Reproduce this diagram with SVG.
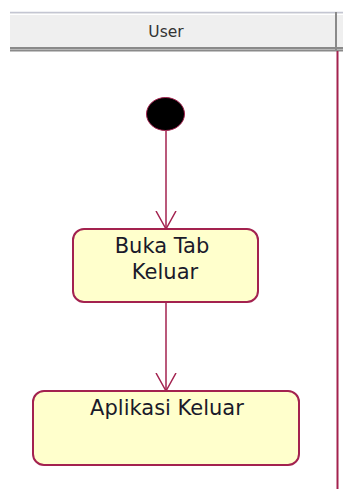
<svg xmlns="http://www.w3.org/2000/svg" width="343" height="489" viewBox="0 0 343 489">
<style>
.node{fill:#ffffcc;stroke:#a3224f;stroke-width:2}
.lbl{font-family:"DejaVu Sans",sans-serif;font-size:21px;fill:#1a1a2a;text-anchor:middle}
.edge{stroke:#a3224f;stroke-width:1.5;fill:none}
</style>
<defs>
<marker id="open" markerWidth="24" markerHeight="24" refX="18" refY="11" orient="auto" markerUnits="userSpaceOnUse" viewBox="0 0 24 24">
<path d="M0,1 L18,11 L0,21" fill="none" stroke="#a3224f" stroke-width="1.5"/>
</marker>
</defs>
<rect width="343" height="489" fill="#ffffff"/>
<g id="lane-header">
<rect x="10" y="12" width="333" height="39" fill="#efefef"/>
<line x1="10" y1="12.5" x2="343" y2="12.5" stroke="#c4c6d2" stroke-width="1.5"/>
<line x1="10" y1="14.5" x2="343" y2="14.5" stroke="#ffffff" stroke-width="1"/>
<rect x="10" y="47" width="333" height="2" fill="#8a8a8a"/>
<rect x="10" y="49" width="333" height="1" fill="#b8b8b8"/>
<rect x="10" y="50" width="333" height="1.5" fill="#8a8a8a"/>
<rect x="335" y="12" width="2" height="39" fill="#8a8a8a"/>
<text x="166" y="37" style="font-family:'DejaVu Sans',sans-serif;font-size:15.5px;fill:#333" text-anchor="middle">User</text>
</g>
<line x1="337.5" y1="51" x2="337.5" y2="489" stroke="#a3224f" stroke-width="2"/>
<g id="connectors">
<line class="edge" x1="166" y1="131" x2="166" y2="229" marker-end="url(#open)"/>
<line class="edge" x1="166" y1="302" x2="166" y2="391" marker-end="url(#open)"/>
</g>
<g id="start">
<ellipse cx="165.5" cy="114" rx="19" ry="16.5" fill="#000000" stroke="#a3224f" stroke-width="1"/>
</g>
<g id="buka-tab-keluar">
<rect class="node" x="73" y="229" width="185" height="73" rx="11"/>
<text class="lbl" x="162" y="253">Buka Tab</text>
<text class="lbl" x="165" y="279">Keluar</text>
</g>
<g id="aplikasi-keluar">
<rect class="node" x="33" y="391" width="266" height="74" rx="11"/>
<text class="lbl" x="167" y="415">Aplikasi Keluar</text>
</g>
</svg>
